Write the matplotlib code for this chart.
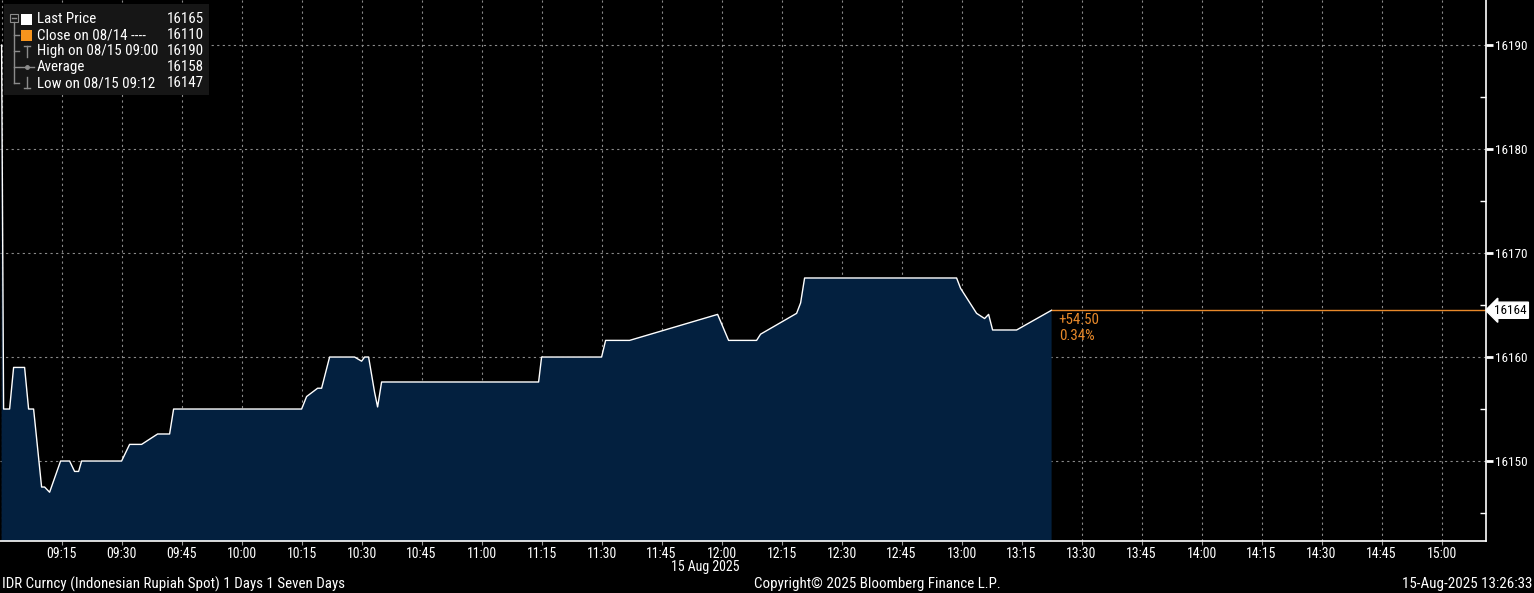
import matplotlib
matplotlib.use("Agg")
import matplotlib.pyplot as plt
import matplotlib.transforms as mtransforms
from matplotlib import font_manager
from matplotlib.patches import Rectangle
from matplotlib.lines import Line2D

# price path, minutes after 09:00 on 15 Aug 2025
minutes = [0, 0.5, 2, 3, 5.75, 6.75, 8, 10, 10.75, 12, 14.75, 17, 18.25, 19.25, 20,
           30, 32, 35, 39, 42, 43, 75, 76.25, 79, 80, 82, 88.25, 90, 90.75, 91.75,
           93.25, 94, 95, 134.25, 135, 150, 151, 157, 179, 181.75, 188.75, 189.75,
           198.75, 199.75, 200.75, 238.75, 239.75, 243.75, 245.75, 246.75, 247.75,
           253.75, 262.5]
prices = [16190, 16155, 16155, 16159, 16159, 16155, 16155, 16147.5, 16147.5, 16147,
          16150, 16150, 16149, 16149, 16150, 16150, 16151.6, 16151.6, 16152.6, 16152.6,
          16155, 16155, 16156.2, 16157, 16157, 16160, 16160, 16159.6, 16160, 16160,
          16156.6, 16155.2, 16157.6, 16157.6, 16160, 16160, 16161.6, 16161.6, 16164.1,
          16161.6, 16161.6, 16162.2, 16164.2, 16165.2, 16167.6, 16167.6, 16166.6,
          16164.2, 16163.7, 16164.1, 16162.6, 16162.6, 16164.5]

tick_minutes = list(range(15, 361, 15))
tick_labels = ["09:15", "09:30", "09:45", "10:00", "10:15", "10:30", "10:45", "11:00",
               "11:15", "11:30", "11:45", "12:00", "12:15", "12:30", "12:45", "13:00",
               "13:15", "13:30", "13:45", "14:00", "14:15", "14:30", "14:45", "15:00"]
y_ticks = [16150, 16160, 16170, 16180, 16190]
y_minor = [16145, 16155, 16165, 16175, 16185]

legend_names = ["Last Price", "Close on 08/14 ----", "High on 08/15 09:00", "Average",
                "Low on 08/15 09:12"]
legend_values = ["16165", "16110", "16190", "16158", "16147"]

last_label = "16164"
change_text = "+54.50"
change_pct = "0.34%"

# narrow font if there is one
names = {f.name for f in font_manager.fontManager.ttflist}
FONT = "DejaVu Sans"
for cand in ["Liberation Sans Narrow", "DejaVu Sans Condensed", "Roboto Condensed",
             "Liberation Sans", "Roboto"]:
    if cand in names:
        FONT = cand
        break
plt.rcParams["font.family"] = [FONT, "DejaVu Sans"]
narrow = "Narrow" in FONT or "Condensed" in FONT
FS = 10.8 if narrow else 9.5      # footer / legend text
FS_TICK = 10 if narrow else 9
FS_Y = 9.5 if narrow else 8.5

W, H = 1534, 593
fig = plt.figure(figsize=(W / 100, H / 100), dpi=100, facecolor="black")
ax = fig.add_axes([0, 52 / H, 1486 / W, 541 / H])
ax.set_facecolor("black")

fill_col = "#03203f"
ax.fill_between(minutes, prices, 16100, color=fill_col, lw=0, zorder=2)
ax.plot(minutes, prices, color="white", lw=1.0, zorder=3)

# last price line to the axis
ax.plot([minutes[-1], 372], [prices[-1], prices[-1]], color="#e8892a", lw=1, zorder=3)
ax.text(minutes[-1] + 1.8, prices[-1] - 0.25, change_text, color="#e8892a", fontsize=FS,
        va="top", ha="left", zorder=4)
ax.text(minutes[-1] + 1.8, prices[-1] - 1.8, change_pct, color="#e8892a", fontsize=FS,
        va="top", ha="left", zorder=4)

ax.set_xlim(-0.4, 371.1)
ax.set_ylim(16142.31, 16194.33)

ax.set_xticks(tick_minutes)
ax.set_xticklabels(tick_labels)
ax.set_xticks([0], minor=True)
ax.yaxis.tick_right()
ax.set_yticks(y_ticks)
ax.set_yticks(y_minor, minor=True)

ax.grid(True, which="major", color="#8a8a8a", ls=(0, (2, 3)), lw=0.8, zorder=2.5)
ax.grid(True, which="minor", axis="x", color="#8a8a8a", ls=(0, (2, 3)), lw=0.8, zorder=2.5)

ax.tick_params(axis="x", which="major", colors="#9a9a9a", labelcolor="white",
               labelsize=FS_TICK, length=3, direction="out", pad=1.5)
ax.tick_params(axis="x", which="minor", length=0)
ax.tick_params(axis="y", which="major", colors="white", labelcolor="white",
               labelsize=FS_Y, length=5, width=2, direction="out", pad=1.5)
ax.tick_params(axis="y", which="minor", colors="white", length=4, width=1, direction="in")

for s in ["left", "top"]:
    ax.spines[s].set_visible(False)
ax.spines["right"].set_color("white")
ax.spines["bottom"].set_color("white")
ax.spines["right"].set_linewidth(1.2)
ax.spines["bottom"].set_linewidth(1.2)

# right-hand last value tag
trans = mtransforms.blended_transform_factory(ax.transAxes, ax.transData)
ax.text(1.0055, prices[-1], last_label, transform=trans, color="black", fontsize=FS_Y,
        va="center", ha="left", zorder=6, clip_on=False,
        bbox=dict(boxstyle="larrow,pad=0.12", fc="white", ec="white"))

# footer texts
fig.text(705 / W, 1 - 567 / H, "15 Aug 2025", color="white", fontsize=FS_TICK, ha="center", va="center")
fig.text(2 / W, 1 - 584 / H, "IDR Curncy (Indonesian Rupiah Spot) 1 Days 1 Seven Days",
         color="white", fontsize=FS, ha="left", va="center")
fig.text(877 / W, 1 - 584 / H, "Copyright\u00a9 2025 Bloomberg Finance L.P.", color="white",
         fontsize=FS, ha="center", va="center")
fig.text(1532 / W, 1 - 584 / H, "15-Aug-2025 13:26:33", color="white", fontsize=FS,
         ha="right", va="center")


# legend block, figure pixel coordinates
def fx(x):
    return x / W


def fy(y):
    return 1 - y / H


fig.add_artist(Rectangle((fx(4), fy(95)), 205 / W, 91 / H, transform=fig.transFigure,
                         fc="#161616", ec="none", zorder=10))
gray = "#8c8c8c"
rows = [19, 35, 51, 67, 83]


def fline(xs, ys, c=gray, lw=1):
    fig.add_artist(Line2D([fx(v) for v in xs], [fy(v) for v in ys], color=c, lw=lw,
                          transform=fig.transFigure, zorder=11))


fig.add_artist(Rectangle((fx(10), fy(22)), 8 / W, 8 / H, transform=fig.transFigure,
                         fc="none", ec=gray, lw=0.8, zorder=11))
fline([12, 16], [18, 18])
fline([14, 14], [22, 83])
for r in rows[1:]:
    fline([14, 19], [r, r])
fig.add_artist(Rectangle((fx(21), fy(25)), 11 / W, 11 / H, transform=fig.transFigure,
                         fc="white", ec="none", zorder=11))
fig.add_artist(Rectangle((fx(21), fy(41)), 11 / W, 11 / H, transform=fig.transFigure,
                         fc="#f7941d", ec="none", zorder=11))
fline([24, 30], [46, 46])
fline([27, 27], [46, 57])
fline([20, 34], [67, 67])
fig.add_artist(Line2D([fx(27)], [fy(67)], marker="o", ms=2.5, color=gray,
                      transform=fig.transFigure, zorder=11))
fline([27, 27], [77, 88])
fline([24, 30], [88, 88])

for r, name, val in zip(rows, legend_names, legend_values):
    fig.text(fx(37), fy(r), name, color="white", fontsize=FS, ha="left", va="center", zorder=12)
    fig.text(fx(204), fy(r), val, color="white", fontsize=FS, ha="right", va="center", zorder=12)

fig.savefig("out.png", dpi=100, facecolor="black")
